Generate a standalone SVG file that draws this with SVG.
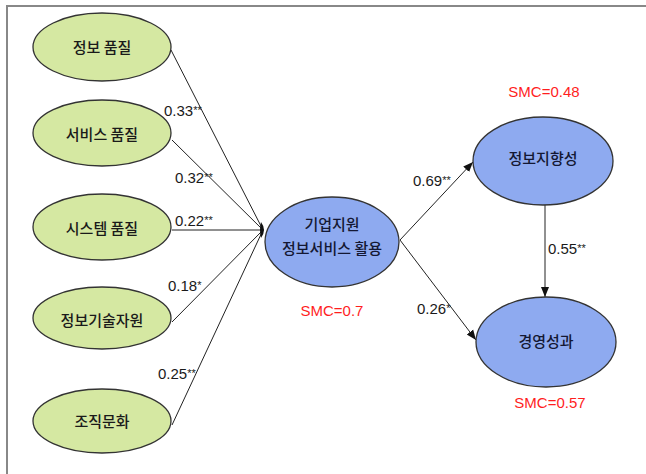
<svg xmlns="http://www.w3.org/2000/svg" width="646" height="474" viewBox="0 0 646 474">
<defs>
<style>
.g{fill:#d5e8a2;stroke:#333;stroke-width:1.3}
.b{fill:#8eaaf0;stroke:#333;stroke-width:1.3}
.t{font-family:"Noto Sans CJK KR","Noto Sans",sans-serif;font-size:15px;fill:#1a1a1a;text-anchor:middle;font-weight:500}
.tb{font-family:"Noto Sans CJK KR","Noto Sans",sans-serif;font-size:15px;fill:#141833;text-anchor:middle;font-weight:500}
.n{font-family:"Liberation Sans","Noto Sans",sans-serif;font-size:15px;fill:#1a1a1a}
.s{font-size:11px}
.r{font-family:"Liberation Sans","Noto Sans",sans-serif;font-size:15px;fill:#ff1e1e;text-anchor:middle}
.l{stroke:#222;stroke-width:1;fill:none}
</style>
<marker id="ah" viewBox="0 0 10 10" refX="10" refY="5" markerWidth="10" markerHeight="10" markerUnits="userSpaceOnUse" orient="auto"><path d="M0,1 L10,5 L0,9 Z" fill="#111"/></marker>
</defs>
<rect width="646" height="474" fill="#fff"/>
<g id="frame" stroke="#888" stroke-width="2" fill="none"><path d="M7,474 V6 H646"/></g>
<g id="connectors">
<line class="l" x1="171" y1="50" x2="263" y2="230"/>
<line class="l" x1="172" y1="140" x2="263" y2="230"/>
<line class="l" x1="172" y1="230" x2="263" y2="230"/>
<line class="l" x1="172" y1="322" x2="263" y2="230"/>
<line class="l" x1="172" y1="425" x2="263" y2="230"/>
<path d="M261,222 Q267,230 261,238 Q259,230 261,222 Z" fill="#111"/>
<line class="l" x1="400" y1="240" x2="473" y2="162" marker-end="url(#ah)"/>
<line class="l" x1="400" y1="240" x2="476" y2="340" marker-end="url(#ah)"/>
<line class="l" x1="545" y1="205" x2="545" y2="297" marker-end="url(#ah)"/>
<text class="n" x="164" y="116">0.33<tspan class="s" dy="-2">**</tspan></text>
<text class="n" x="175" y="183">0.32<tspan class="s" dy="-2">**</tspan></text>
<text class="n" x="175" y="226">0.22<tspan class="s" dy="-2">**</tspan></text>
<text class="n" x="168" y="291">0.18<tspan class="s" dy="-2">*</tspan></text>
<text class="n" x="158" y="379">0.25<tspan class="s" dy="-2">**</tspan></text>
<text class="n" x="413" y="186">0.69<tspan class="s" dy="-2">**</tspan></text>
<text class="n" x="417" y="314">0.26<tspan class="s" dy="-2">*</tspan></text>
<text class="n" x="548" y="254">0.55<tspan class="s" dy="-2">**</tspan></text>
</g>
<g id="n1"><ellipse class="g" cx="102" cy="47" rx="69" ry="34"/><text class="t" x="102" y="53">정보 품질</text></g>
<g id="n2"><ellipse class="g" cx="102" cy="133" rx="69" ry="33"/><text class="t" x="102" y="140">서비스 품질</text></g>
<g id="n3"><ellipse class="g" cx="102" cy="227" rx="69" ry="33"/><text class="t" x="102" y="234">시스템 품질</text></g>
<g id="n4"><ellipse class="g" cx="102" cy="318" rx="69" ry="31"/><text class="t" x="102" y="326">정보기술자원</text></g>
<g id="n5"><ellipse class="g" cx="102" cy="421" rx="69" ry="32"/><text class="t" x="102" y="427">조직문화</text></g>
<g id="n6"><ellipse class="b" cx="332" cy="242" rx="67" ry="45"/><text class="tb" x="332" y="230">기업지원</text><text class="tb" x="332" y="254">정보서비스 활용</text><text class="r" x="332" y="316">SMC=0.7</text></g>
<g id="n7"><ellipse class="b" cx="543" cy="161" rx="70" ry="44"/><text class="tb" x="543" y="164">정보지향성</text><text class="r" x="544" y="97">SMC=0.48</text></g>
<g id="n8"><ellipse class="b" cx="546" cy="342" rx="70" ry="45"/><text class="tb" x="546" y="347">경영성과</text><text class="r" x="550" y="408">SMC=0.57</text></g>
</svg>
